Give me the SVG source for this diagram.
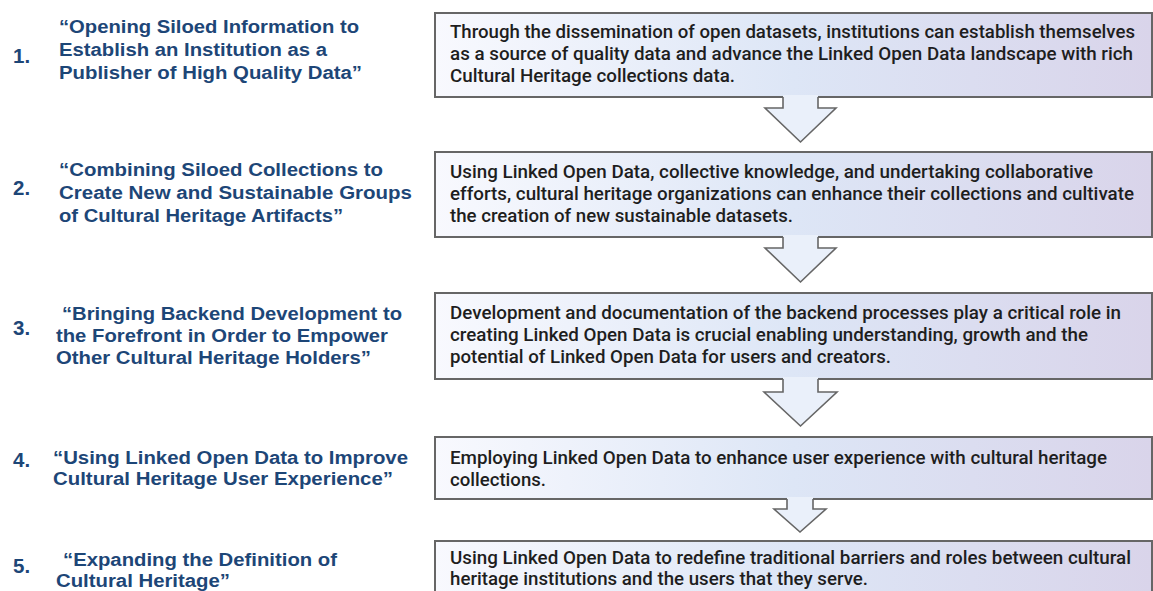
<svg xmlns="http://www.w3.org/2000/svg" width="1153" height="591" viewBox="0 0 1153 591">
<defs>
<linearGradient id="g" x1="0" y1="0" x2="1" y2="0">
<stop offset="0" stop-color="#f8f9fe"/>
<stop offset="0.5" stop-color="#dde6f6"/>
<stop offset="1" stop-color="#d9d4ea"/>
</linearGradient>
<style>
.box{fill:url(#g);stroke:#666;stroke-width:2}
.af{fill:#eaf0fa;stroke:none}
.as{fill:none;stroke:#666;stroke-width:1.6;stroke-linejoin:miter}
.t{font-family:Roboto,"Liberation Sans",sans-serif;font-size:17.5px;font-weight:500;fill:#1e1e1e}
.h{font-family:"Liberation Sans",Arial,sans-serif;font-size:18px;font-weight:bold;fill:#1d4677}
.n{font-family:"Liberation Sans",Arial,sans-serif;font-size:20.5px;font-weight:bold;fill:#1d4677}
</style>
</defs>
<rect width="1153" height="591" fill="#ffffff"/>

<g id="label1">
<text class="n" x="13" y="63">1.</text>
<text class="h" x="59" y="33" textLength="300" lengthAdjust="spacingAndGlyphs">“Opening Siloed Information to</text>
<text class="h" x="59" y="56" textLength="268" lengthAdjust="spacingAndGlyphs">Establish an Institution as a</text>
<text class="h" x="59" y="79" textLength="303" lengthAdjust="spacingAndGlyphs">Publisher of High Quality Data”</text>
</g>
<g id="label2">
<text class="n" x="13" y="195">2.</text>
<text class="h" x="59" y="176" textLength="324" lengthAdjust="spacingAndGlyphs">“Combining Siloed Collections to</text>
<text class="h" x="59" y="199" textLength="353" lengthAdjust="spacingAndGlyphs">Create New and Sustainable Groups</text>
<text class="h" x="59" y="222" textLength="284" lengthAdjust="spacingAndGlyphs">of Cultural Heritage Artifacts”</text>
</g>
<g id="label3">
<text class="n" x="13" y="335">3.</text>
<text class="h" x="62" y="320" textLength="340" lengthAdjust="spacingAndGlyphs">“Bringing Backend Development to</text>
<text class="h" x="56" y="342" textLength="332" lengthAdjust="spacingAndGlyphs">the Forefront in Order to Empower</text>
<text class="h" x="56" y="364" textLength="315" lengthAdjust="spacingAndGlyphs">Other Cultural Heritage Holders”</text>
</g>
<g id="label4">
<text class="n" x="13" y="467">4.</text>
<text class="h" x="53" y="464" textLength="355" lengthAdjust="spacingAndGlyphs">“Using Linked Open Data to Improve</text>
<text class="h" x="53" y="485" textLength="340" lengthAdjust="spacingAndGlyphs">Cultural Heritage User Experience”</text>
</g>
<g id="label5">
<text class="n" x="13" y="573">5.</text>
<text class="h" x="63" y="566" textLength="274" lengthAdjust="spacingAndGlyphs">“Expanding the Definition of</text>
<text class="h" x="56" y="587" textLength="174" lengthAdjust="spacingAndGlyphs">Cultural Heritage”</text>
</g>

<g id="box1">
<rect class="box" x="435" y="13" width="717" height="84"/>
<text class="t" x="450" y="38" textLength="685" lengthAdjust="spacingAndGlyphs">Through the dissemination of open datasets, institutions can establish themselves</text>
<text class="t" x="450" y="60" textLength="683" lengthAdjust="spacingAndGlyphs">as a source of quality data and advance the Linked Open Data landscape with rich</text>
<text class="t" x="450" y="82" textLength="285" lengthAdjust="spacingAndGlyphs">Cultural Heritage collections data.</text>
</g>
<g id="box2">
<rect class="box" x="435" y="152" width="717" height="85"/>
<text class="t" x="450" y="178" textLength="643" lengthAdjust="spacingAndGlyphs">Using Linked Open Data, collective knowledge, and undertaking collaborative</text>
<text class="t" x="450" y="200" textLength="684" lengthAdjust="spacingAndGlyphs">efforts, cultural heritage organizations can enhance their collections and cultivate</text>
<text class="t" x="450" y="222" textLength="343" lengthAdjust="spacingAndGlyphs">the creation of new sustainable datasets.</text>
</g>
<g id="box3">
<rect class="box" x="435" y="293" width="717" height="86"/>
<text class="t" x="450" y="319" textLength="671" lengthAdjust="spacingAndGlyphs">Development and documentation of the backend processes play a critical role in</text>
<text class="t" x="450" y="341" textLength="638" lengthAdjust="spacingAndGlyphs">creating Linked Open Data is crucial enabling understanding, growth and the</text>
<text class="t" x="450" y="363" textLength="441" lengthAdjust="spacingAndGlyphs">potential of Linked Open Data for users and creators.</text>
</g>
<g id="box4">
<rect class="box" x="435" y="437" width="717" height="62"/>
<text class="t" x="450" y="464" textLength="657" lengthAdjust="spacingAndGlyphs">Employing Linked Open Data to enhance user experience with cultural heritage</text>
<text class="t" x="450" y="486" textLength="96" lengthAdjust="spacingAndGlyphs">collections.</text>
</g>
<g id="box5">
<rect class="box" x="435" y="541" width="717" height="70"/>
<text class="t" x="450" y="564" textLength="681" lengthAdjust="spacingAndGlyphs">Using Linked Open Data to redefine traditional barriers and roles between cultural</text>
<text class="t" x="450" y="585" textLength="418" lengthAdjust="spacingAndGlyphs">heritage institutions and the users that they serve.</text>
</g>

<g id="connectors">
<polygon class="af" points="783,95 783,108 765,108 800.5,142 836,108 818,108 818,95"/>
<polyline class="as" points="783,97 783,108 765,108 800.5,142 836,108 818,108 818,97"/>
<polygon class="af" points="783,235 783,248 765,248 800.5,282 836,248 818,248 818,235"/>
<polyline class="as" points="783,237 783,248 765,248 800.5,282 836,248 818,248 818,237"/>
<polygon class="af" points="783,377 783,392 764,392 800.5,426 837,392 818,392 818,377"/>
<polyline class="as" points="783,379 783,392 764,392 800.5,426 837,392 818,392 818,379"/>
<polygon class="af" points="787,497 787,509 774,509 800,532 826,509 813,509 813,497"/>
<polyline class="as" points="787,499 787,509 774,509 800,532 826,509 813,509 813,499"/>
</g>
</svg>
